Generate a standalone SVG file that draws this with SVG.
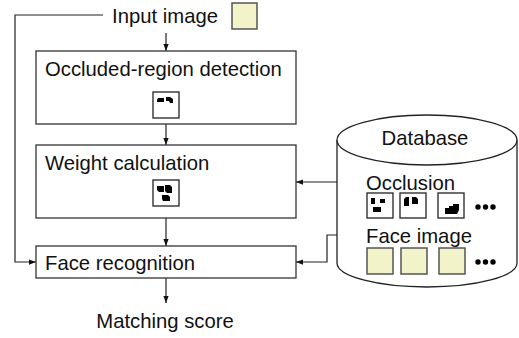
<svg xmlns="http://www.w3.org/2000/svg" width="519" height="338" viewBox="0 0 519 338">
<style>
text{font-family:"Liberation Sans",Arial,sans-serif;font-size:20.3px;fill:#111}
.box{fill:#fff;stroke:#333;stroke-width:1.3}
.icon{fill:#fff;stroke:#222;stroke-width:1.3}
.face{fill:#f3f3c9;stroke:#555;stroke-width:1.5}
.ln{fill:none;stroke:#222;stroke-width:1.2}
.blob{fill:#000}
</style>
<defs>
<marker id="ah" viewBox="0 0 8 8" refX="8" refY="4" markerWidth="7" markerHeight="7" markerUnits="userSpaceOnUse" orient="auto">
<path d="M0,1 L8,4 L0,7 Z" fill="#111"/>
</marker>
</defs>
<rect width="519" height="338" fill="#fff"/>
<g id="connectors">
<polyline class="ln" points="103,15 15,15 15,262 36,262" marker-end="url(#ah)"/>
<line class="ln" x1="166" y1="33" x2="166" y2="51" marker-end="url(#ah)"/>
<line class="ln" x1="166" y1="124" x2="166" y2="145" marker-end="url(#ah)"/>
<line class="ln" x1="166" y1="218" x2="166" y2="246" marker-end="url(#ah)"/>
<line class="ln" x1="166" y1="278" x2="166" y2="303" marker-end="url(#ah)"/>
<line class="ln" x1="360" y1="182" x2="296" y2="182" marker-end="url(#ah)"/>
<polyline class="ln" points="360,235 327,235 327,262 296,262" marker-end="url(#ah)"/>
</g>
<g id="input">
<text x="112" y="23">Input image</text>
<rect class="face" x="232" y="3" width="25" height="26"/>
</g>
<g id="detection">
<rect class="box" x="36" y="51" width="260" height="73"/>
<text x="45" y="76">Occluded-region detection</text>
<rect class="icon" x="153" y="92" width="26" height="26"/>
<path class="blob" d="M158,98 h6 v4 h-7 v-2 z M166,97 h4 l3,2 v4 h-3 l-1,-2 h-3 z"/>
</g>
<g id="weight">
<rect class="box" x="36" y="145" width="260" height="73"/>
<text x="45" y="170">Weight calculation</text>
<rect class="icon" x="153" y="180" width="26" height="26"/>
<path class="blob" d="M157,186 h7 v6 h-5 l-2,-2 z M165,185 h5 l2,2 v6 h-5 l-2,-2 z M162,195 h6 l2,2 v4 h-7 l-1,-2 z"/>
</g>
<g id="recognition">
<rect class="box" x="36" y="246" width="260" height="32"/>
<text x="45" y="270">Face recognition</text>
</g>
<g id="score">
<text x="165" y="328" text-anchor="middle">Matching score</text>
</g>
<g id="database">
<path d="M337,140 V263 A90,24 0 0 0 517,263 V140" fill="#fff" stroke="#222" stroke-width="1.3"/>
<ellipse cx="427" cy="140" rx="90" ry="25" fill="#fff" stroke="#222" stroke-width="1.3"/>
<text x="425" y="145" text-anchor="middle">Database</text>
<text x="366" y="190">Occlusion</text>
<rect class="icon" x="367" y="193" width="26" height="25"/>
<path class="blob" d="M371,198 h4 v6 h-4 z M380,199 h5 v4 h-5 z M373,207 h8 v5 h-8 z"/>
<rect class="icon" x="400" y="193" width="26" height="25"/>
<path class="blob" d="M404,199 l2,-2 h3 v9 h-5 z M412,197 h4 l2,2 v5 h-6 z"/>
<rect class="icon" x="438" y="193" width="26" height="25"/>
<path class="blob" d="M445,208 h4 v-2 h4 v-2 h6 v6 l-2,4 h-12 z"/>
<circle cx="478" cy="207" r="2.7" fill="#000"/>
<circle cx="485.5" cy="207" r="2.7" fill="#000"/>
<circle cx="493" cy="207" r="2.7" fill="#000"/>
<text x="366" y="243">Face image</text>
<rect class="face" x="367" y="248" width="26" height="26"/>
<rect class="face" x="401" y="248" width="26" height="26"/>
<rect class="face" x="439" y="248" width="26" height="26"/>
<circle cx="478" cy="262" r="2.7" fill="#000"/>
<circle cx="485.5" cy="262" r="2.7" fill="#000"/>
<circle cx="493" cy="262" r="2.7" fill="#000"/>
</g>
</svg>
